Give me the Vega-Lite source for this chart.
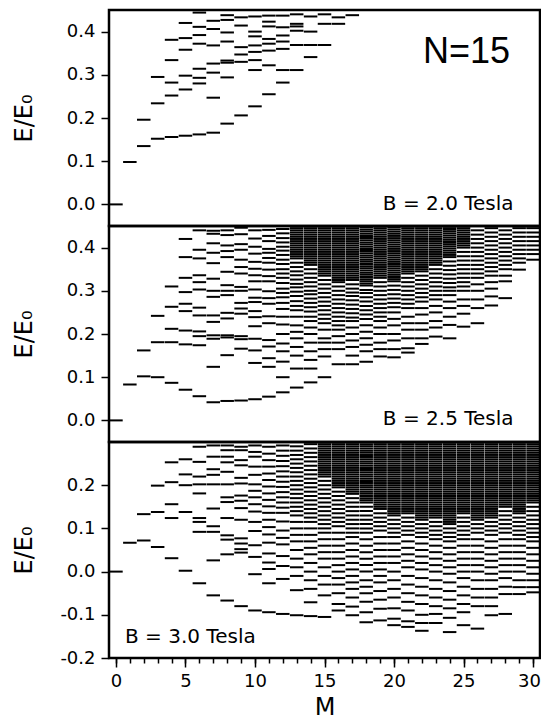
{"$schema":"https://vega.github.io/schema/vega-lite/v6.json","padding":{"left":10,"top":8,"right":3,"bottom":2},"spacing":0,"bounds":"flush",
"config":{"view":{"stroke":"black","strokeWidth":2.5},"axis":{"labelFont":"DejaVu Sans","labelFontSize":18,"labelColor":"black","titleFont":"DejaVu Sans","titleFontSize":24,"titleFontWeight":"normal","titleColor":"black","tickColor":"black","tickWidth":1.5,"domain":false,"grid":false}},
"datasets":{
"a":[{"m":0,"e":0},{"m":1,"e":0.098},{"m":2,"e":0.135},{"m":2,"e":0.196},{"m":3,"e":0.152},{"m":3,"e":0.234},{"m":3,"e":0.295},{"m":4,"e":0.156},{"m":4,"e":0.252},{"m":4,"e":0.282},{"m":4,"e":0.334},{"m":4,"e":0.381},{"m":5,"e":0.159},{"m":5,"e":0.266},{"m":5,"e":0.298},{"m":5,"e":0.358},{"m":5,"e":0.385},{"m":5,"e":0.42},{"m":6,"e":0.162},{"m":6,"e":0.28},{"m":6,"e":0.293},{"m":6,"e":0.314},{"m":6,"e":0.372},{"m":6,"e":0.392},{"m":6,"e":0.411},{"m":6,"e":0.444},{"m":7,"e":0.166},{"m":7,"e":0.247},{"m":7,"e":0.305},{"m":7,"e":0.326},{"m":7,"e":0.368},{"m":7,"e":0.406},{"m":7,"e":0.425},{"m":8,"e":0.187},{"m":8,"e":0.294},{"m":8,"e":0.328},{"m":8,"e":0.333},{"m":8,"e":0.377},{"m":8,"e":0.398},{"m":8,"e":0.427},{"m":8,"e":0.438},{"m":9,"e":0.206},{"m":9,"e":0.33},{"m":9,"e":0.347},{"m":9,"e":0.364},{"m":9,"e":0.414},{"m":9,"e":0.433},{"m":10,"e":0.227},{"m":10,"e":0.311},{"m":10,"e":0.334},{"m":10,"e":0.353},{"m":10,"e":0.368},{"m":10,"e":0.389},{"m":10,"e":0.4},{"m":10,"e":0.435},{"m":11,"e":0.255},{"m":11,"e":0.322},{"m":11,"e":0.356},{"m":11,"e":0.372},{"m":11,"e":0.383},{"m":11,"e":0.412},{"m":11,"e":0.423},{"m":11,"e":0.437},{"m":12,"e":0.282},{"m":12,"e":0.311},{"m":12,"e":0.36},{"m":12,"e":0.377},{"m":12,"e":0.391},{"m":12,"e":0.41},{"m":12,"e":0.437},{"m":13,"e":0.311},{"m":13,"e":0.369},{"m":13,"e":0.402},{"m":13,"e":0.412},{"m":13,"e":0.418},{"m":13,"e":0.44},{"m":14,"e":0.341},{"m":14,"e":0.369},{"m":14,"e":0.4},{"m":14,"e":0.435},{"m":15,"e":0.369},{"m":15,"e":0.418},{"m":15,"e":0.44},{"m":16,"e":0.418},{"m":16,"e":0.433},{"m":17,"e":0.438}],
"b":[{"m":0,"e":0},{"m":1,"e":0.083},{"m":2,"e":0.102},{"m":2,"e":0.162},{"m":3,"e":0.1},{"m":3,"e":0.181},{"m":3,"e":0.242},{"m":4,"e":0.087},{"m":4,"e":0.181},{"m":4,"e":0.212},{"m":4,"e":0.263},{"m":4,"e":0.31},
{"m":5,"e":0.071},{"m":5,"e":0.176},{"m":5,"e":0.208},{"m":5,"e":0.253},{"m":5,"e":0.27},{"m":5,"e":0.297},{"m":5,"e":0.33},{"m":5,"e":0.378},{"m":5,"e":0.42},
{"m":6,"e":0.056},{"m":6,"e":0.174},{"m":6,"e":0.195},{"m":6,"e":0.206},{"m":6,"e":0.243},{"m":6,"e":0.261},{"m":6,"e":0.303},{"m":6,"e":0.32},{"m":6,"e":0.336},{"m":6,"e":0.375},{"m":6,"e":0.395},{"m":6,"e":0.44},
{"m":7,"e":0.042},{"m":7,"e":0.124},{"m":7,"e":0.189},{"m":7,"e":0.197},{"m":7,"e":0.228},{"m":7,"e":0.243},{"m":7,"e":0.286},{"m":7,"e":0.3},{"m":7,"e":0.328},{"m":7,"e":0.364},{"m":7,"e":0.388},{"m":7,"e":0.41},{"m":7,"e":0.432},{"m":7,"e":0.439},
{"m":8,"e":0.045},{"m":8,"e":0.151},{"m":8,"e":0.192},{"m":8,"e":0.197},{"m":8,"e":0.236},{"m":8,"e":0.249},{"m":8,"e":0.29},{"m":8,"e":0.3},{"m":8,"e":0.313},{"m":8,"e":0.344},{"m":8,"e":0.378},{"m":8,"e":0.392},{"m":8,"e":0.405},{"m":8,"e":0.429},{"m":8,"e":0.44},
{"m":9,"e":0.046},{"m":9,"e":0.166},{"m":9,"e":0.188},{"m":9,"e":0.195},{"m":9,"e":0.247},{"m":9,"e":0.259},{"m":9,"e":0.272},{"m":9,"e":0.3},{"m":9,"e":0.309},{"m":9,"e":0.34},{"m":9,"e":0.355},{"m":9,"e":0.372},{"m":9,"e":0.395},{"m":9,"e":0.408},{"m":9,"e":0.431},{"m":9,"e":0.446},
{"m":10,"e":0.049},{"m":10,"e":0.133},{"m":10,"e":0.162},{"m":10,"e":0.189},{"m":10,"e":0.218},{"m":10,"e":0.239},{"m":10,"e":0.253},{"m":10,"e":0.274},{"m":10,"e":0.284},{"m":10,"e":0.303},{"m":10,"e":0.322},{"m":10,"e":0.336},{"m":10,"e":0.351},{"m":10,"e":0.367},{"m":10,"e":0.386},{"m":10,"e":0.402},{"m":10,"e":0.421},{"m":10,"e":0.44},
{"m":11,"e":0.055},{"m":11,"e":0.124},{"m":11,"e":0.144},{"m":11,"e":0.171},{"m":11,"e":0.186},{"m":11,"e":0.225},{"m":11,"e":0.241},{"m":11,"e":0.27},{"m":11,"e":0.283},{"m":11,"e":0.299},{"m":11,"e":0.322},{"m":11,"e":0.334},{"m":11,"e":0.349},{"m":11,"e":0.365},{"m":11,"e":0.376},{"m":11,"e":0.388},{"m":11,"e":0.397},{"m":11,"e":0.415},{"m":11,"e":0.427},{"m":11,"e":0.441},
{"m":12,"e":0.065},{"m":12,"e":0.1},{"m":12,"e":0.136},{"m":12,"e":0.16},{"m":12,"e":0.178},{"m":12,"e":0.2},{"m":12,"e":0.222},{"m":12,"e":0.24},{"m":12,"e":0.258},{"m":12,"e":0.272},{"m":12,"e":0.285},{"m":12,"e":0.295},{"m":12,"e":0.305},{"m":12,"e":0.318},{"m":12,"e":0.33},{"m":12,"e":0.34},{"m":12,"e":0.35},{"m":12,"e":0.362},{"m":12,"e":0.372},{"m":12,"e":0.383},{"m":12,"e":0.393},{"m":12,"e":0.402},{"m":12,"e":0.412},{"m":12,"e":0.422},{"m":12,"e":0.433},{"m":12,"e":0.443},
{"m":13,"e":0.076},{"m":13,"e":0.12},{"m":13,"e":0.15},{"m":13,"e":0.17},{"m":13,"e":0.19},{"m":13,"e":0.205},{"m":13,"e":0.22},{"m":13,"e":0.24},{"m":13,"e":0.255},{"m":13,"e":0.265},{"m":13,"e":0.276},{"m":13,"e":0.288},{"m":13,"e":0.298},{"m":13,"e":0.308},{"m":13,"e":0.316},{"m":13,"e":0.326},{"m":13,"e":0.336},{"m":13,"e":0.345},{"m":13,"e":0.355},{"m":13,"e":0.365},{"m":13,"e":0.375},{"m":13,"e":0.385},{"m":13,"e":0.395},{"m":13,"e":0.405},{"m":13,"e":0.415},{"m":13,"e":0.425},{"m":13,"e":0.435},{"m":13,"e":0.445},
{"m":14,"e":0.088},{"m":14,"e":0.12},{"m":14,"e":0.14},{"m":14,"e":0.16},{"m":14,"e":0.18},{"m":14,"e":0.2},{"m":14,"e":0.215},{"m":14,"e":0.23},{"m":14,"e":0.24},{"m":14,"e":0.252},{"m":14,"e":0.262},{"m":14,"e":0.272},{"m":14,"e":0.282},{"m":14,"e":0.292},{"m":14,"e":0.3},{"m":14,"e":0.31},{"m":14,"e":0.32},{"m":14,"e":0.33},{"m":14,"e":0.34},{"m":14,"e":0.35},{"m":14,"e":0.36},{"m":14,"e":0.37},{"m":14,"e":0.38},{"m":14,"e":0.39},{"m":14,"e":0.4},{"m":14,"e":0.41},{"m":14,"e":0.42},{"m":14,"e":0.43},{"m":14,"e":0.44},
{"m":15,"e":0.1},{"m":15,"e":0.148},{"m":15,"e":0.165},{"m":15,"e":0.18},{"m":15,"e":0.19},{"m":15,"e":0.21},{"m":15,"e":0.225},{"m":15,"e":0.235},{"m":15,"e":0.245},{"m":15,"e":0.255},{"m":15,"e":0.265},{"m":15,"e":0.275},{"m":15,"e":0.285},{"m":15,"e":0.295},{"m":15,"e":0.305},{"m":15,"e":0.315},{"m":15,"e":0.325},{"m":15,"e":0.335},{"m":15,"e":0.345},{"m":15,"e":0.355},{"m":15,"e":0.365},{"m":15,"e":0.375},{"m":15,"e":0.385},{"m":15,"e":0.395},{"m":15,"e":0.405},{"m":15,"e":0.415},{"m":15,"e":0.425},{"m":15,"e":0.435},{"m":15,"e":0.445},
{"m":16,"e":0.13},{"m":16,"e":0.165},{"m":16,"e":0.18},{"m":16,"e":0.195},{"m":16,"e":0.21},{"m":16,"e":0.22},{"m":16,"e":0.23},{"m":16,"e":0.24},{"m":16,"e":0.25},{"m":16,"e":0.26},{"m":16,"e":0.27},{"m":16,"e":0.28},{"m":16,"e":0.29},{"m":16,"e":0.3},{"m":16,"e":0.31},{"m":16,"e":0.32},{"m":16,"e":0.33},{"m":16,"e":0.34},{"m":16,"e":0.35},{"m":16,"e":0.36},{"m":16,"e":0.37},{"m":16,"e":0.38},{"m":16,"e":0.39},{"m":16,"e":0.4},{"m":16,"e":0.41},{"m":16,"e":0.42},{"m":16,"e":0.43},{"m":16,"e":0.44},
{"m":17,"e":0.13},{"m":17,"e":0.15},{"m":17,"e":0.17},{"m":17,"e":0.185},{"m":17,"e":0.2},{"m":17,"e":0.215},{"m":17,"e":0.23},{"m":17,"e":0.238},{"m":17,"e":0.248},{"m":17,"e":0.258},{"m":17,"e":0.268},{"m":17,"e":0.278},{"m":17,"e":0.288},{"m":17,"e":0.296},{"m":17,"e":0.305},{"m":17,"e":0.315},{"m":17,"e":0.325},{"m":17,"e":0.335},{"m":17,"e":0.345},{"m":17,"e":0.355},{"m":17,"e":0.365},{"m":17,"e":0.375},{"m":17,"e":0.385},{"m":17,"e":0.395},{"m":17,"e":0.405},{"m":17,"e":0.415},{"m":17,"e":0.425},{"m":17,"e":0.435},{"m":17,"e":0.445},
{"m":18,"e":0.136},{"m":18,"e":0.16},{"m":18,"e":0.175},{"m":18,"e":0.19},{"m":18,"e":0.205},{"m":18,"e":0.22},{"m":18,"e":0.235},{"m":18,"e":0.245},{"m":18,"e":0.255},{"m":18,"e":0.265},{"m":18,"e":0.275},{"m":18,"e":0.285},{"m":18,"e":0.295},{"m":18,"e":0.302},{"m":18,"e":0.312},{"m":18,"e":0.322},{"m":18,"e":0.332},{"m":18,"e":0.342},{"m":18,"e":0.352},{"m":18,"e":0.362},{"m":18,"e":0.372},{"m":18,"e":0.382},{"m":18,"e":0.392},{"m":18,"e":0.402},{"m":18,"e":0.412},{"m":18,"e":0.422},{"m":18,"e":0.432},{"m":18,"e":0.442},
{"m":19,"e":0.148},{"m":19,"e":0.165},{"m":19,"e":0.18},{"m":19,"e":0.2},{"m":19,"e":0.215},{"m":19,"e":0.23},{"m":19,"e":0.24},{"m":19,"e":0.25},{"m":19,"e":0.26},{"m":19,"e":0.27},{"m":19,"e":0.28},{"m":19,"e":0.29},{"m":19,"e":0.3},{"m":19,"e":0.31},{"m":19,"e":0.32},{"m":19,"e":0.33},{"m":19,"e":0.34},{"m":19,"e":0.35},{"m":19,"e":0.36},{"m":19,"e":0.37},{"m":19,"e":0.38},{"m":19,"e":0.39},{"m":19,"e":0.4},{"m":19,"e":0.41},{"m":19,"e":0.42},{"m":19,"e":0.43},{"m":19,"e":0.44},
{"m":20,"e":0.146},{"m":20,"e":0.165},{"m":20,"e":0.185},{"m":20,"e":0.2},{"m":20,"e":0.22},{"m":20,"e":0.235},{"m":20,"e":0.25},{"m":20,"e":0.262},{"m":20,"e":0.272},{"m":20,"e":0.282},{"m":20,"e":0.292},{"m":20,"e":0.302},{"m":20,"e":0.312},{"m":20,"e":0.322},{"m":20,"e":0.332},{"m":20,"e":0.342},{"m":20,"e":0.352},{"m":20,"e":0.362},{"m":20,"e":0.372},{"m":20,"e":0.382},{"m":20,"e":0.392},{"m":20,"e":0.402},{"m":20,"e":0.412},{"m":20,"e":0.422},{"m":20,"e":0.432},{"m":20,"e":0.442},
{"m":21,"e":0.157},{"m":21,"e":0.167},{"m":21,"e":0.19},{"m":21,"e":0.21},{"m":21,"e":0.225},{"m":21,"e":0.24},{"m":21,"e":0.26},{"m":21,"e":0.27},{"m":21,"e":0.28},{"m":21,"e":0.29},{"m":21,"e":0.3},{"m":21,"e":0.31},{"m":21,"e":0.32},{"m":21,"e":0.33},{"m":21,"e":0.34},{"m":21,"e":0.35},{"m":21,"e":0.36},{"m":21,"e":0.37},{"m":21,"e":0.38},{"m":21,"e":0.39},{"m":21,"e":0.4},{"m":21,"e":0.41},{"m":21,"e":0.42},{"m":21,"e":0.43},{"m":21,"e":0.44},
{"m":22,"e":0.177},{"m":22,"e":0.19},{"m":22,"e":0.21},{"m":22,"e":0.225},{"m":22,"e":0.245},{"m":22,"e":0.26},{"m":22,"e":0.275},{"m":22,"e":0.285},{"m":22,"e":0.295},{"m":22,"e":0.305},{"m":22,"e":0.315},{"m":22,"e":0.325},{"m":22,"e":0.335},{"m":22,"e":0.345},{"m":22,"e":0.355},{"m":22,"e":0.365},{"m":22,"e":0.375},{"m":22,"e":0.385},{"m":22,"e":0.395},{"m":22,"e":0.405},{"m":22,"e":0.415},{"m":22,"e":0.425},{"m":22,"e":0.435},{"m":22,"e":0.445},
{"m":23,"e":0.194},{"m":23,"e":0.215},{"m":23,"e":0.23},{"m":23,"e":0.25},{"m":23,"e":0.265},{"m":23,"e":0.28},{"m":23,"e":0.29},{"m":23,"e":0.3},{"m":23,"e":0.31},{"m":23,"e":0.32},{"m":23,"e":0.33},{"m":23,"e":0.34},{"m":23,"e":0.35},{"m":23,"e":0.36},{"m":23,"e":0.37},{"m":23,"e":0.38},{"m":23,"e":0.39},{"m":23,"e":0.4},{"m":23,"e":0.41},{"m":23,"e":0.42},{"m":23,"e":0.43},{"m":23,"e":0.44},
{"m":24,"e":0.19},{"m":24,"e":0.221},{"m":24,"e":0.24},{"m":24,"e":0.26},{"m":24,"e":0.275},{"m":24,"e":0.29},{"m":24,"e":0.3},{"m":24,"e":0.308},{"m":24,"e":0.318},{"m":24,"e":0.328},{"m":24,"e":0.338},{"m":24,"e":0.348},{"m":24,"e":0.358},{"m":24,"e":0.368},{"m":24,"e":0.378},{"m":24,"e":0.388},{"m":24,"e":0.398},{"m":24,"e":0.408},{"m":24,"e":0.418},{"m":24,"e":0.428},{"m":24,"e":0.438},{"m":24,"e":0.448},
{"m":25,"e":0.217},{"m":25,"e":0.247},{"m":25,"e":0.265},{"m":25,"e":0.28},{"m":25,"e":0.3},{"m":25,"e":0.31},{"m":25,"e":0.32},{"m":25,"e":0.33},{"m":25,"e":0.34},{"m":25,"e":0.35},{"m":25,"e":0.36},{"m":25,"e":0.37},{"m":25,"e":0.38},{"m":25,"e":0.39},{"m":25,"e":0.4},{"m":25,"e":0.41},{"m":25,"e":0.42},{"m":25,"e":0.43},{"m":25,"e":0.44},
{"m":26,"e":0.225},{"m":26,"e":0.26},{"m":26,"e":0.28},{"m":26,"e":0.3},{"m":26,"e":0.315},{"m":26,"e":0.33},{"m":26,"e":0.34},{"m":26,"e":0.35},{"m":26,"e":0.36},{"m":26,"e":0.37},{"m":26,"e":0.38},{"m":26,"e":0.39},{"m":26,"e":0.4},{"m":26,"e":0.41},{"m":26,"e":0.42},{"m":26,"e":0.43},{"m":26,"e":0.44},
{"m":27,"e":0.266},{"m":27,"e":0.287},{"m":27,"e":0.305},{"m":27,"e":0.32},{"m":27,"e":0.335},{"m":27,"e":0.345},{"m":27,"e":0.355},{"m":27,"e":0.365},{"m":27,"e":0.375},{"m":27,"e":0.385},{"m":27,"e":0.395},{"m":27,"e":0.405},{"m":27,"e":0.415},{"m":27,"e":0.425},{"m":27,"e":0.435},{"m":27,"e":0.445},
{"m":28,"e":0.283},{"m":28,"e":0.322},{"m":28,"e":0.335},{"m":28,"e":0.35},{"m":28,"e":0.36},{"m":28,"e":0.37},{"m":28,"e":0.38},{"m":28,"e":0.39},{"m":28,"e":0.4},{"m":28,"e":0.41},{"m":28,"e":0.42},{"m":28,"e":0.43},{"m":28,"e":0.44},
{"m":29,"e":0.349},{"m":29,"e":0.365},{"m":29,"e":0.375},{"m":29,"e":0.385},{"m":29,"e":0.395},{"m":29,"e":0.405},{"m":29,"e":0.415},{"m":29,"e":0.425},{"m":29,"e":0.435},{"m":29,"e":0.445},
{"m":30,"e":0.372},{"m":30,"e":0.385},{"m":30,"e":0.395},{"m":30,"e":0.405},{"m":30,"e":0.415},{"m":30,"e":0.425},{"m":30,"e":0.435},{"m":30,"e":0.445},
{"m":13,"e":0.38},{"m":13,"e":0.39},{"m":13,"e":0.4},{"m":13,"e":0.41},{"m":13,"e":0.42},{"m":13,"e":0.43},{"m":13,"e":0.44},
{"m":14,"e":0.365},{"m":14,"e":0.375},{"m":14,"e":0.385},{"m":14,"e":0.395},{"m":14,"e":0.405},{"m":14,"e":0.415},{"m":14,"e":0.425},{"m":14,"e":0.435},{"m":14,"e":0.445},
{"m":15,"e":0.34},{"m":15,"e":0.35},{"m":15,"e":0.36},{"m":15,"e":0.37},{"m":15,"e":0.38},{"m":15,"e":0.39},{"m":15,"e":0.4},{"m":15,"e":0.41},{"m":15,"e":0.42},{"m":15,"e":0.43},{"m":15,"e":0.44},
{"m":16,"e":0.325},{"m":16,"e":0.335},{"m":16,"e":0.345},{"m":16,"e":0.355},{"m":16,"e":0.365},{"m":16,"e":0.375},{"m":16,"e":0.385},{"m":16,"e":0.395},{"m":16,"e":0.405},{"m":16,"e":0.415},{"m":16,"e":0.425},{"m":16,"e":0.435},{"m":16,"e":0.445},
{"m":17,"e":0.33},{"m":17,"e":0.34},{"m":17,"e":0.35},{"m":17,"e":0.36},{"m":17,"e":0.37},{"m":17,"e":0.38},{"m":17,"e":0.39},{"m":17,"e":0.4},{"m":17,"e":0.41},{"m":17,"e":0.42},{"m":17,"e":0.43},{"m":17,"e":0.44},
{"m":18,"e":0.317},{"m":18,"e":0.327},{"m":18,"e":0.337},{"m":18,"e":0.347},{"m":18,"e":0.357},{"m":18,"e":0.367},{"m":18,"e":0.377},{"m":18,"e":0.387},{"m":18,"e":0.397},{"m":18,"e":0.407},{"m":18,"e":0.417},{"m":18,"e":0.427},{"m":18,"e":0.437},{"m":18,"e":0.447},
{"m":19,"e":0.335},{"m":19,"e":0.345},{"m":19,"e":0.355},{"m":19,"e":0.365},{"m":19,"e":0.375},{"m":19,"e":0.385},{"m":19,"e":0.395},{"m":19,"e":0.405},{"m":19,"e":0.415},{"m":19,"e":0.425},{"m":19,"e":0.435},{"m":19,"e":0.445},
{"m":20,"e":0.327},{"m":20,"e":0.337},{"m":20,"e":0.347},{"m":20,"e":0.357},{"m":20,"e":0.367},{"m":20,"e":0.377},{"m":20,"e":0.387},{"m":20,"e":0.397},{"m":20,"e":0.407},{"m":20,"e":0.417},{"m":20,"e":0.427},{"m":20,"e":0.437},{"m":20,"e":0.447},
{"m":21,"e":0.345},{"m":21,"e":0.355},{"m":21,"e":0.365},{"m":21,"e":0.375},{"m":21,"e":0.385},{"m":21,"e":0.395},{"m":21,"e":0.405},{"m":21,"e":0.415},{"m":21,"e":0.425},{"m":21,"e":0.435},{"m":21,"e":0.445},
{"m":22,"e":0.35},{"m":22,"e":0.36},{"m":22,"e":0.37},{"m":22,"e":0.38},{"m":22,"e":0.39},{"m":22,"e":0.4},{"m":22,"e":0.41},{"m":22,"e":0.42},{"m":22,"e":0.43},{"m":22,"e":0.44},
{"m":23,"e":0.365},{"m":23,"e":0.375},{"m":23,"e":0.385},{"m":23,"e":0.395},{"m":23,"e":0.405},{"m":23,"e":0.415},{"m":23,"e":0.425},{"m":23,"e":0.435},{"m":23,"e":0.445},
{"m":24,"e":0.383},{"m":24,"e":0.393},{"m":24,"e":0.403},{"m":24,"e":0.413},{"m":24,"e":0.423},{"m":24,"e":0.433},{"m":24,"e":0.443},
{"m":25,"e":0.405},{"m":25,"e":0.415},{"m":25,"e":0.425},{"m":25,"e":0.435},{"m":25,"e":0.445}],
"c":[{"m":0,"e":0},{"m":1,"e":0.067},{"m":2,"e":0.072},{"m":2,"e":0.133},{"m":3,"e":0.057},{"m":3,"e":0.138},{"m":3,"e":0.199},{"m":4,"e":0.031},{"m":4,"e":0.124},{"m":4,"e":0.156},{"m":4,"e":0.207},{"m":4,"e":0.253},{"m":5,"e":0.002},{"m":5,"e":0.138},{"m":5,"e":0.2},{"m":5,"e":0.225},{"m":5,"e":0.26},
{"m":6,"e":-0.027},{"m":6,"e":0.092},{"m":6,"e":0.115},{"m":6,"e":0.124},{"m":6,"e":0.181},{"m":6,"e":0.202},{"m":6,"e":0.22},{"m":6,"e":0.254},{"m":6,"e":0.289},
{"m":7,"e":-0.055},{"m":7,"e":0.026},{"m":7,"e":0.092},{"m":7,"e":0.105},{"m":7,"e":0.146},{"m":7,"e":0.202},{"m":7,"e":0.224},{"m":7,"e":0.237},{"m":7,"e":0.266},{"m":7,"e":0.292},
{"m":8,"e":-0.067},{"m":8,"e":0.04},{"m":8,"e":0.074},{"m":8,"e":0.084},{"m":8,"e":0.124},{"m":8,"e":0.161},{"m":8,"e":0.172},{"m":8,"e":0.202},{"m":8,"e":0.231},{"m":8,"e":0.253},{"m":8,"e":0.266},{"m":8,"e":0.281},{"m":8,"e":0.292},
{"m":9,"e":-0.08},{"m":9,"e":0.044},{"m":9,"e":0.052},{"m":9,"e":0.065},{"m":9,"e":0.077},{"m":9,"e":0.12},{"m":9,"e":0.147},{"m":9,"e":0.164},{"m":9,"e":0.176},{"m":9,"e":0.204},{"m":9,"e":0.217},{"m":9,"e":0.246},{"m":9,"e":0.258},{"m":9,"e":0.281},{"m":9,"e":0.289},
{"m":10,"e":-0.09},{"m":10,"e":-0.006},{"m":10,"e":0.034},{"m":10,"e":0.061},{"m":10,"e":0.094},{"m":10,"e":0.115},{"m":10,"e":0.139},{"m":10,"e":0.156},{"m":10,"e":0.172},{"m":10,"e":0.187},{"m":10,"e":0.202},{"m":10,"e":0.224},{"m":10,"e":0.243},{"m":10,"e":0.266},{"m":10,"e":0.277},{"m":10,"e":0.292},
{"m":11,"e":-0.094},{"m":11,"e":-0.027},{"m":11,"e":0.006},{"m":11,"e":0.021},{"m":11,"e":0.042},{"m":11,"e":0.067},{"m":11,"e":0.086},{"m":11,"e":0.103},{"m":11,"e":0.12},{"m":11,"e":0.136},{"m":11,"e":0.151},{"m":11,"e":0.166},{"m":11,"e":0.181},{"m":11,"e":0.197},{"m":11,"e":0.212},{"m":11,"e":0.227},{"m":11,"e":0.243},{"m":11,"e":0.258},{"m":11,"e":0.273},{"m":11,"e":0.289},
{"m":12,"e":-0.098},{"m":12,"e":-0.017},{"m":12,"e":0.013},{"m":12,"e":0.036},{"m":12,"e":0.063},{"m":12,"e":0.078},{"m":12,"e":0.095},{"m":12,"e":0.116},{"m":12,"e":0.136},{"m":12,"e":0.148},{"m":12,"e":0.16},{"m":12,"e":0.172},{"m":12,"e":0.184},{"m":12,"e":0.196},{"m":12,"e":0.208},{"m":12,"e":0.22},{"m":12,"e":0.232},{"m":12,"e":0.244},{"m":12,"e":0.256},{"m":12,"e":0.268},{"m":12,"e":0.28},{"m":12,"e":0.292},
{"m":13,"e":-0.101},{"m":13,"e":-0.043},{"m":13,"e":-0.01},{"m":13,"e":0.01},{"m":13,"e":0.03},{"m":13,"e":0.05},{"m":13,"e":0.07},{"m":13,"e":0.085},{"m":13,"e":0.1},{"m":13,"e":0.115},{"m":13,"e":0.13},{"m":13,"e":0.14},{"m":13,"e":0.15},{"m":13,"e":0.16},{"m":13,"e":0.17},{"m":13,"e":0.18},{"m":13,"e":0.19},{"m":13,"e":0.2},{"m":13,"e":0.21},{"m":13,"e":0.22},{"m":13,"e":0.23},{"m":13,"e":0.24},{"m":13,"e":0.25},{"m":13,"e":0.26},{"m":13,"e":0.27},{"m":13,"e":0.28},{"m":13,"e":0.29},
{"m":14,"e":-0.103},{"m":14,"e":-0.071},{"m":14,"e":-0.04},{"m":14,"e":-0.02},{"m":14,"e":0},{"m":14,"e":0.02},{"m":14,"e":0.04},{"m":14,"e":0.055},{"m":14,"e":0.07},{"m":14,"e":0.085},{"m":14,"e":0.1},{"m":14,"e":0.115},{"m":14,"e":0.125},{"m":14,"e":0.135},{"m":14,"e":0.145},{"m":14,"e":0.155},{"m":14,"e":0.165},{"m":14,"e":0.175},{"m":14,"e":0.185},{"m":14,"e":0.195},{"m":14,"e":0.205},{"m":14,"e":0.215},{"m":14,"e":0.225},{"m":14,"e":0.235},{"m":14,"e":0.245},{"m":14,"e":0.255},{"m":14,"e":0.265},{"m":14,"e":0.275},{"m":14,"e":0.285},{"m":14,"e":0.295},
{"m":15,"e":-0.105},{"m":15,"e":-0.055},{"m":15,"e":-0.03},{"m":15,"e":-0.01},{"m":15,"e":0.01},{"m":15,"e":0.03},{"m":15,"e":0.045},{"m":15,"e":0.06},{"m":15,"e":0.075},{"m":15,"e":0.09},{"m":15,"e":0.1},{"m":15,"e":0.11},{"m":15,"e":0.12},{"m":15,"e":0.13},{"m":15,"e":0.14},{"m":15,"e":0.15},{"m":15,"e":0.16},{"m":15,"e":0.17},{"m":15,"e":0.18},{"m":15,"e":0.19},{"m":15,"e":0.2},{"m":15,"e":0.21},{"m":15,"e":0.22},{"m":15,"e":0.23},{"m":15,"e":0.24},{"m":15,"e":0.25},{"m":15,"e":0.26},{"m":15,"e":0.27},{"m":15,"e":0.28},{"m":15,"e":0.29},
{"m":16,"e":-0.09},{"m":16,"e":-0.075},{"m":16,"e":-0.05},{"m":16,"e":-0.03},{"m":16,"e":-0.015},{"m":16,"e":0},{"m":16,"e":0.015},{"m":16,"e":0.03},{"m":16,"e":0.045},{"m":16,"e":0.06},{"m":16,"e":0.075},{"m":16,"e":0.09},{"m":16,"e":0.105},{"m":16,"e":0.115},{"m":16,"e":0.125},{"m":16,"e":0.135},{"m":16,"e":0.145},{"m":16,"e":0.155},{"m":16,"e":0.165},{"m":16,"e":0.175},{"m":16,"e":0.185},{"m":16,"e":0.195},{"m":16,"e":0.205},{"m":16,"e":0.215},{"m":16,"e":0.225},{"m":16,"e":0.235},{"m":16,"e":0.245},{"m":16,"e":0.255},{"m":16,"e":0.265},{"m":16,"e":0.275},{"m":16,"e":0.285},{"m":16,"e":0.295},
{"m":17,"e":-0.101},{"m":17,"e":-0.081},{"m":17,"e":-0.06},{"m":17,"e":-0.04},{"m":17,"e":-0.025},{"m":17,"e":-0.01},{"m":17,"e":0.005},{"m":17,"e":0.02},{"m":17,"e":0.035},{"m":17,"e":0.05},{"m":17,"e":0.065},{"m":17,"e":0.08},{"m":17,"e":0.09},{"m":17,"e":0.1},{"m":17,"e":0.11},{"m":17,"e":0.12},{"m":17,"e":0.13},{"m":17,"e":0.14},{"m":17,"e":0.15},{"m":17,"e":0.16},{"m":17,"e":0.17},{"m":17,"e":0.18},{"m":17,"e":0.19},{"m":17,"e":0.2},{"m":17,"e":0.21},{"m":17,"e":0.22},{"m":17,"e":0.23},{"m":17,"e":0.24},{"m":17,"e":0.25},{"m":17,"e":0.26},{"m":17,"e":0.27},{"m":17,"e":0.28},{"m":17,"e":0.29},
{"m":18,"e":-0.117},{"m":18,"e":-0.094},{"m":18,"e":-0.07},{"m":18,"e":-0.05},{"m":18,"e":-0.035},{"m":18,"e":-0.02},{"m":18,"e":0},{"m":18,"e":0.015},{"m":18,"e":0.03},{"m":18,"e":0.045},{"m":18,"e":0.06},{"m":18,"e":0.075},{"m":18,"e":0.09},{"m":18,"e":0.1},{"m":18,"e":0.11},{"m":18,"e":0.12},{"m":18,"e":0.13},{"m":18,"e":0.14},{"m":18,"e":0.15},{"m":18,"e":0.16},{"m":18,"e":0.17},{"m":18,"e":0.18},{"m":18,"e":0.19},{"m":18,"e":0.2},{"m":18,"e":0.21},{"m":18,"e":0.22},{"m":18,"e":0.23},{"m":18,"e":0.24},{"m":18,"e":0.25},{"m":18,"e":0.26},{"m":18,"e":0.27},{"m":18,"e":0.28},{"m":18,"e":0.29},
{"m":19,"e":-0.113},{"m":19,"e":-0.086},{"m":19,"e":-0.065},{"m":19,"e":-0.045},{"m":19,"e":-0.025},{"m":19,"e":-0.01},{"m":19,"e":0.005},{"m":19,"e":0.02},{"m":19,"e":0.035},{"m":19,"e":0.05},{"m":19,"e":0.065},{"m":19,"e":0.08},{"m":19,"e":0.095},{"m":19,"e":0.105},{"m":19,"e":0.115},{"m":19,"e":0.125},{"m":19,"e":0.135},{"m":19,"e":0.145},{"m":19,"e":0.155},{"m":19,"e":0.165},{"m":19,"e":0.175},{"m":19,"e":0.185},{"m":19,"e":0.195},{"m":19,"e":0.205},{"m":19,"e":0.215},{"m":19,"e":0.225},{"m":19,"e":0.235},{"m":19,"e":0.245},{"m":19,"e":0.255},{"m":19,"e":0.265},{"m":19,"e":0.275},{"m":19,"e":0.285},{"m":19,"e":0.295},
{"m":20,"e":-0.124},{"m":20,"e":-0.109},{"m":20,"e":-0.085},{"m":20,"e":-0.06},{"m":20,"e":-0.04},{"m":20,"e":-0.02},{"m":20,"e":0},{"m":20,"e":0.02},{"m":20,"e":0.035},{"m":20,"e":0.05},{"m":20,"e":0.065},{"m":20,"e":0.08},{"m":20,"e":0.09},{"m":20,"e":0.1},{"m":20,"e":0.11},{"m":20,"e":0.12},{"m":20,"e":0.13},{"m":20,"e":0.14},{"m":20,"e":0.15},{"m":20,"e":0.16},{"m":20,"e":0.17},{"m":20,"e":0.18},{"m":20,"e":0.19},{"m":20,"e":0.2},{"m":20,"e":0.21},{"m":20,"e":0.22},{"m":20,"e":0.23},{"m":20,"e":0.24},{"m":20,"e":0.25},{"m":20,"e":0.26},{"m":20,"e":0.27},{"m":20,"e":0.28},{"m":20,"e":0.29},
{"m":21,"e":-0.128},{"m":21,"e":-0.115},{"m":21,"e":-0.09},{"m":21,"e":-0.07},{"m":21,"e":-0.05},{"m":21,"e":-0.03},{"m":21,"e":-0.01},{"m":21,"e":0.01},{"m":21,"e":0.025},{"m":21,"e":0.04},{"m":21,"e":0.055},{"m":21,"e":0.07},{"m":21,"e":0.085},{"m":21,"e":0.095},{"m":21,"e":0.105},{"m":21,"e":0.115},{"m":21,"e":0.125},{"m":21,"e":0.135},{"m":21,"e":0.145},{"m":21,"e":0.155},{"m":21,"e":0.165},{"m":21,"e":0.175},{"m":21,"e":0.185},{"m":21,"e":0.195},{"m":21,"e":0.205},{"m":21,"e":0.215},{"m":21,"e":0.225},{"m":21,"e":0.235},{"m":21,"e":0.245},{"m":21,"e":0.255},{"m":21,"e":0.265},{"m":21,"e":0.275},{"m":21,"e":0.285},{"m":21,"e":0.295},
{"m":22,"e":-0.137},{"m":22,"e":-0.119},{"m":22,"e":-0.1},{"m":22,"e":-0.075},{"m":22,"e":-0.055},{"m":22,"e":-0.035},{"m":22,"e":-0.015},{"m":22,"e":0.005},{"m":22,"e":0.02},{"m":22,"e":0.035},{"m":22,"e":0.05},{"m":22,"e":0.065},{"m":22,"e":0.08},{"m":22,"e":0.09},{"m":22,"e":0.1},{"m":22,"e":0.11},{"m":22,"e":0.12},{"m":22,"e":0.13},{"m":22,"e":0.14},{"m":22,"e":0.15},{"m":22,"e":0.16},{"m":22,"e":0.17},{"m":22,"e":0.18},{"m":22,"e":0.19},{"m":22,"e":0.2},{"m":22,"e":0.21},{"m":22,"e":0.22},{"m":22,"e":0.23},{"m":22,"e":0.24},{"m":22,"e":0.25},{"m":22,"e":0.26},{"m":22,"e":0.27},{"m":22,"e":0.28},{"m":22,"e":0.29},
{"m":23,"e":-0.119},{"m":23,"e":-0.098},{"m":23,"e":-0.08},{"m":23,"e":-0.06},{"m":23,"e":-0.04},{"m":23,"e":-0.02},{"m":23,"e":0},{"m":23,"e":0.015},{"m":23,"e":0.03},{"m":23,"e":0.045},{"m":23,"e":0.06},{"m":23,"e":0.075},{"m":23,"e":0.085},{"m":23,"e":0.095},{"m":23,"e":0.105},{"m":23,"e":0.115},{"m":23,"e":0.125},{"m":23,"e":0.135},{"m":23,"e":0.145},{"m":23,"e":0.155},{"m":23,"e":0.165},{"m":23,"e":0.175},{"m":23,"e":0.185},{"m":23,"e":0.195},{"m":23,"e":0.205},{"m":23,"e":0.215},{"m":23,"e":0.225},{"m":23,"e":0.235},{"m":23,"e":0.245},{"m":23,"e":0.255},{"m":23,"e":0.265},{"m":23,"e":0.275},{"m":23,"e":0.285},{"m":23,"e":0.295},
{"m":24,"e":-0.14},{"m":24,"e":-0.107},{"m":24,"e":-0.085},{"m":24,"e":-0.065},{"m":24,"e":-0.045},{"m":24,"e":-0.025},{"m":24,"e":-0.005},{"m":24,"e":0.01},{"m":24,"e":0.025},{"m":24,"e":0.04},{"m":24,"e":0.055},{"m":24,"e":0.07},{"m":24,"e":0.08},{"m":24,"e":0.09},{"m":24,"e":0.1},{"m":24,"e":0.11},{"m":24,"e":0.12},{"m":24,"e":0.13},{"m":24,"e":0.14},{"m":24,"e":0.15},{"m":24,"e":0.16},{"m":24,"e":0.17},{"m":24,"e":0.18},{"m":24,"e":0.19},{"m":24,"e":0.2},{"m":24,"e":0.21},{"m":24,"e":0.22},{"m":24,"e":0.23},{"m":24,"e":0.24},{"m":24,"e":0.25},{"m":24,"e":0.26},{"m":24,"e":0.27},{"m":24,"e":0.28},{"m":24,"e":0.29},
{"m":25,"e":-0.124},{"m":25,"e":-0.094},{"m":25,"e":-0.075},{"m":25,"e":-0.055},{"m":25,"e":-0.035},{"m":25,"e":-0.015},{"m":25,"e":0},{"m":25,"e":0.015},{"m":25,"e":0.03},{"m":25,"e":0.045},{"m":25,"e":0.06},{"m":25,"e":0.075},{"m":25,"e":0.085},{"m":25,"e":0.095},{"m":25,"e":0.105},{"m":25,"e":0.115},{"m":25,"e":0.125},{"m":25,"e":0.135},{"m":25,"e":0.145},{"m":25,"e":0.155},{"m":25,"e":0.165},{"m":25,"e":0.175},{"m":25,"e":0.185},{"m":25,"e":0.195},{"m":25,"e":0.205},{"m":25,"e":0.215},{"m":25,"e":0.225},{"m":25,"e":0.235},{"m":25,"e":0.245},{"m":25,"e":0.255},{"m":25,"e":0.265},{"m":25,"e":0.275},{"m":25,"e":0.285},{"m":25,"e":0.295},
{"m":26,"e":-0.132},{"m":26,"e":-0.08},{"m":26,"e":-0.06},{"m":26,"e":-0.04},{"m":26,"e":-0.02},{"m":26,"e":0},{"m":26,"e":0.015},{"m":26,"e":0.03},{"m":26,"e":0.045},{"m":26,"e":0.06},{"m":26,"e":0.075},{"m":26,"e":0.09},{"m":26,"e":0.1},{"m":26,"e":0.11},{"m":26,"e":0.12},{"m":26,"e":0.13},{"m":26,"e":0.14},{"m":26,"e":0.15},{"m":26,"e":0.16},{"m":26,"e":0.17},{"m":26,"e":0.18},{"m":26,"e":0.19},{"m":26,"e":0.2},{"m":26,"e":0.21},{"m":26,"e":0.22},{"m":26,"e":0.23},{"m":26,"e":0.24},{"m":26,"e":0.25},{"m":26,"e":0.26},{"m":26,"e":0.27},{"m":26,"e":0.28},{"m":26,"e":0.29},
{"m":27,"e":-0.101},{"m":27,"e":-0.08},{"m":27,"e":-0.06},{"m":27,"e":-0.04},{"m":27,"e":-0.02},{"m":27,"e":-0.005},{"m":27,"e":0.01},{"m":27,"e":0.025},{"m":27,"e":0.04},{"m":27,"e":0.055},{"m":27,"e":0.07},{"m":27,"e":0.085},{"m":27,"e":0.095},{"m":27,"e":0.105},{"m":27,"e":0.115},{"m":27,"e":0.125},{"m":27,"e":0.135},{"m":27,"e":0.145},{"m":27,"e":0.155},{"m":27,"e":0.165},{"m":27,"e":0.175},{"m":27,"e":0.185},{"m":27,"e":0.195},{"m":27,"e":0.205},{"m":27,"e":0.215},{"m":27,"e":0.225},{"m":27,"e":0.235},{"m":27,"e":0.245},{"m":27,"e":0.255},{"m":27,"e":0.265},{"m":27,"e":0.275},{"m":27,"e":0.285},{"m":27,"e":0.295},
{"m":28,"e":-0.098},{"m":28,"e":-0.052},{"m":28,"e":-0.035},{"m":28,"e":-0.015},{"m":28,"e":0},{"m":28,"e":0.015},{"m":28,"e":0.03},{"m":28,"e":0.045},{"m":28,"e":0.06},{"m":28,"e":0.075},{"m":28,"e":0.09},{"m":28,"e":0.1},{"m":28,"e":0.11},{"m":28,"e":0.12},{"m":28,"e":0.13},{"m":28,"e":0.14},{"m":28,"e":0.15},{"m":28,"e":0.16},{"m":28,"e":0.17},{"m":28,"e":0.18},{"m":28,"e":0.19},{"m":28,"e":0.2},{"m":28,"e":0.21},{"m":28,"e":0.22},{"m":28,"e":0.23},{"m":28,"e":0.24},{"m":28,"e":0.25},{"m":28,"e":0.26},{"m":28,"e":0.27},{"m":28,"e":0.28},{"m":28,"e":0.29},
{"m":29,"e":-0.052},{"m":29,"e":-0.036},{"m":29,"e":-0.02},{"m":29,"e":0},{"m":29,"e":0.015},{"m":29,"e":0.03},{"m":29,"e":0.045},{"m":29,"e":0.06},{"m":29,"e":0.075},{"m":29,"e":0.085},{"m":29,"e":0.095},{"m":29,"e":0.105},{"m":29,"e":0.115},{"m":29,"e":0.125},{"m":29,"e":0.135},{"m":29,"e":0.145},{"m":29,"e":0.155},{"m":29,"e":0.165},{"m":29,"e":0.175},{"m":29,"e":0.185},{"m":29,"e":0.195},{"m":29,"e":0.205},{"m":29,"e":0.215},{"m":29,"e":0.225},{"m":29,"e":0.235},{"m":29,"e":0.245},{"m":29,"e":0.255},{"m":29,"e":0.265},{"m":29,"e":0.275},{"m":29,"e":0.285},{"m":29,"e":0.295},
{"m":30,"e":-0.048},{"m":30,"e":-0.036},{"m":30,"e":-0.02},{"m":30,"e":-0.005},{"m":30,"e":0.01},{"m":30,"e":0.025},{"m":30,"e":0.04},{"m":30,"e":0.055},{"m":30,"e":0.07},{"m":30,"e":0.08},{"m":30,"e":0.09},{"m":30,"e":0.1},{"m":30,"e":0.11},{"m":30,"e":0.12},{"m":30,"e":0.13},{"m":30,"e":0.14},{"m":30,"e":0.15},{"m":30,"e":0.16},{"m":30,"e":0.17},{"m":30,"e":0.18},{"m":30,"e":0.19},{"m":30,"e":0.2},{"m":30,"e":0.21},{"m":30,"e":0.22},{"m":30,"e":0.23},{"m":30,"e":0.24},{"m":30,"e":0.25},{"m":30,"e":0.26},{"m":30,"e":0.27},{"m":30,"e":0.28},{"m":30,"e":0.29},
{"m":15,"e":0.225},{"m":15,"e":0.235},{"m":15,"e":0.245},{"m":15,"e":0.255},{"m":15,"e":0.265},{"m":15,"e":0.275},{"m":15,"e":0.285},{"m":15,"e":0.295},
{"m":16,"e":0.2},{"m":16,"e":0.21},{"m":16,"e":0.22},{"m":16,"e":0.23},{"m":16,"e":0.24},{"m":16,"e":0.25},{"m":16,"e":0.26},{"m":16,"e":0.27},{"m":16,"e":0.28},{"m":16,"e":0.29},
{"m":17,"e":0.185},{"m":17,"e":0.195},{"m":17,"e":0.205},{"m":17,"e":0.215},{"m":17,"e":0.225},{"m":17,"e":0.235},{"m":17,"e":0.245},{"m":17,"e":0.255},{"m":17,"e":0.265},{"m":17,"e":0.275},{"m":17,"e":0.285},{"m":17,"e":0.295},
{"m":18,"e":0.165},{"m":18,"e":0.175},{"m":18,"e":0.185},{"m":18,"e":0.195},{"m":18,"e":0.205},{"m":18,"e":0.215},{"m":18,"e":0.225},{"m":18,"e":0.235},{"m":18,"e":0.245},{"m":18,"e":0.255},{"m":18,"e":0.265},{"m":18,"e":0.275},{"m":18,"e":0.285},{"m":18,"e":0.295},
{"m":19,"e":0.15},{"m":19,"e":0.16},{"m":19,"e":0.17},{"m":19,"e":0.18},{"m":19,"e":0.19},{"m":19,"e":0.2},{"m":19,"e":0.21},{"m":19,"e":0.22},{"m":19,"e":0.23},{"m":19,"e":0.24},{"m":19,"e":0.25},{"m":19,"e":0.26},{"m":19,"e":0.27},{"m":19,"e":0.28},{"m":19,"e":0.29},
{"m":20,"e":0.135},{"m":20,"e":0.145},{"m":20,"e":0.155},{"m":20,"e":0.165},{"m":20,"e":0.175},{"m":20,"e":0.185},{"m":20,"e":0.195},{"m":20,"e":0.205},{"m":20,"e":0.215},{"m":20,"e":0.225},{"m":20,"e":0.235},{"m":20,"e":0.245},{"m":20,"e":0.255},{"m":20,"e":0.265},{"m":20,"e":0.275},{"m":20,"e":0.285},{"m":20,"e":0.295},
{"m":21,"e":0.14},{"m":21,"e":0.15},{"m":21,"e":0.16},{"m":21,"e":0.17},{"m":21,"e":0.18},{"m":21,"e":0.19},{"m":21,"e":0.2},{"m":21,"e":0.21},{"m":21,"e":0.22},{"m":21,"e":0.23},{"m":21,"e":0.24},{"m":21,"e":0.25},{"m":21,"e":0.26},{"m":21,"e":0.27},{"m":21,"e":0.28},{"m":21,"e":0.29},
{"m":22,"e":0.125},{"m":22,"e":0.135},{"m":22,"e":0.145},{"m":22,"e":0.155},{"m":22,"e":0.165},{"m":22,"e":0.175},{"m":22,"e":0.185},{"m":22,"e":0.195},{"m":22,"e":0.205},{"m":22,"e":0.215},{"m":22,"e":0.225},{"m":22,"e":0.235},{"m":22,"e":0.245},{"m":22,"e":0.255},{"m":22,"e":0.265},{"m":22,"e":0.275},{"m":22,"e":0.285},{"m":22,"e":0.295},
{"m":23,"e":0.13},{"m":23,"e":0.14},{"m":23,"e":0.15},{"m":23,"e":0.16},{"m":23,"e":0.17},{"m":23,"e":0.18},{"m":23,"e":0.19},{"m":23,"e":0.2},{"m":23,"e":0.21},{"m":23,"e":0.22},{"m":23,"e":0.23},{"m":23,"e":0.24},{"m":23,"e":0.25},{"m":23,"e":0.26},{"m":23,"e":0.27},{"m":23,"e":0.28},{"m":23,"e":0.29},
{"m":24,"e":0.115},{"m":24,"e":0.125},{"m":24,"e":0.135},{"m":24,"e":0.145},{"m":24,"e":0.155},{"m":24,"e":0.165},{"m":24,"e":0.175},{"m":24,"e":0.185},{"m":24,"e":0.195},{"m":24,"e":0.205},{"m":24,"e":0.215},{"m":24,"e":0.225},{"m":24,"e":0.235},{"m":24,"e":0.245},{"m":24,"e":0.255},{"m":24,"e":0.265},{"m":24,"e":0.275},{"m":24,"e":0.285},{"m":24,"e":0.295},
{"m":25,"e":0.14},{"m":25,"e":0.15},{"m":25,"e":0.16},{"m":25,"e":0.17},{"m":25,"e":0.18},{"m":25,"e":0.19},{"m":25,"e":0.2},{"m":25,"e":0.21},{"m":25,"e":0.22},{"m":25,"e":0.23},{"m":25,"e":0.24},{"m":25,"e":0.25},{"m":25,"e":0.26},{"m":25,"e":0.27},{"m":25,"e":0.28},{"m":25,"e":0.29},
{"m":26,"e":0.125},{"m":26,"e":0.135},{"m":26,"e":0.145},{"m":26,"e":0.155},{"m":26,"e":0.165},{"m":26,"e":0.175},{"m":26,"e":0.185},{"m":26,"e":0.195},{"m":26,"e":0.205},{"m":26,"e":0.215},{"m":26,"e":0.225},{"m":26,"e":0.235},{"m":26,"e":0.245},{"m":26,"e":0.255},{"m":26,"e":0.265},{"m":26,"e":0.275},{"m":26,"e":0.285},{"m":26,"e":0.295},
{"m":27,"e":0.13},{"m":27,"e":0.14},{"m":27,"e":0.15},{"m":27,"e":0.16},{"m":27,"e":0.17},{"m":27,"e":0.18},{"m":27,"e":0.19},{"m":27,"e":0.2},{"m":27,"e":0.21},{"m":27,"e":0.22},{"m":27,"e":0.23},{"m":27,"e":0.24},{"m":27,"e":0.25},{"m":27,"e":0.26},{"m":27,"e":0.27},{"m":27,"e":0.28},{"m":27,"e":0.29},
{"m":28,"e":0.155},{"m":28,"e":0.165},{"m":28,"e":0.175},{"m":28,"e":0.185},{"m":28,"e":0.195},{"m":28,"e":0.205},{"m":28,"e":0.215},{"m":28,"e":0.225},{"m":28,"e":0.235},{"m":28,"e":0.245},{"m":28,"e":0.255},{"m":28,"e":0.265},{"m":28,"e":0.275},{"m":28,"e":0.285},{"m":28,"e":0.295},
{"m":29,"e":0.14},{"m":29,"e":0.15},{"m":29,"e":0.16},{"m":29,"e":0.17},{"m":29,"e":0.18},{"m":29,"e":0.19},{"m":29,"e":0.2},{"m":29,"e":0.21},{"m":29,"e":0.22},{"m":29,"e":0.23},{"m":29,"e":0.24},{"m":29,"e":0.25},{"m":29,"e":0.26},{"m":29,"e":0.27},{"m":29,"e":0.28},{"m":29,"e":0.29},
{"m":30,"e":0.165},{"m":30,"e":0.175},{"m":30,"e":0.185},{"m":30,"e":0.195},{"m":30,"e":0.205},{"m":30,"e":0.215},{"m":30,"e":0.225},{"m":30,"e":0.235},{"m":30,"e":0.245},{"m":30,"e":0.255},{"m":30,"e":0.265},{"m":30,"e":0.275},{"m":30,"e":0.285},{"m":30,"e":0.295}]
},
"vconcat":[
{"width":431,"height":216,"layer":[
{"data":{"name":"a"},"mark":{"type":"tick","orient":"horizontal","size":13.5,"thickness":2,"color":"black","opacity":1,"clip":true},
"encoding":{"x":{"field":"m","type":"quantitative","scale":{"domain":[-0.5,30.5],"nice":false,"zero":false},"axis":null},
"y":{"field":"e","type":"quantitative","scale":{"domain":[-0.05,0.45],"nice":false,"zero":false},"axis":{"values":[0,0.1,0.2,0.3,0.4],"labelExpr":"replace(format(datum.value,'.1f'),'−','-')","title":"E/E₀","tickSize":8,"labelPadding":6,"titleX":-73}}}},
{"data":{"values":[{"m":28.6,"e":-0.012,"t":"B = 2.0 Tesla"}]},"mark":{"type":"text","align":"right","baseline":"alphabetic","font":"DejaVu Sans","fontSize":20,"color":"black"},
"encoding":{"x":{"field":"m","type":"quantitative"},"y":{"field":"e","type":"quantitative"},"text":{"field":"t"}}},
{"data":{"values":[{"m":28.35,"e":0.327,"t":"N=15"}]},"mark":{"type":"text","align":"right","baseline":"alphabetic","font":"Liberation Sans","fontSize":36,"color":"black"},
"encoding":{"x":{"field":"m","type":"quantitative"},"y":{"field":"e","type":"quantitative"},"text":{"field":"t"}}}]},
{"width":431,"height":216,"layer":[
{"data":{"name":"b"},"mark":{"type":"tick","orient":"horizontal","size":13.5,"thickness":2,"color":"black","opacity":1,"clip":true},
"encoding":{"x":{"field":"m","type":"quantitative","scale":{"domain":[-0.5,30.5],"nice":false,"zero":false},"axis":null},
"y":{"field":"e","type":"quantitative","scale":{"domain":[-0.05,0.45],"nice":false,"zero":false},"axis":{"values":[0,0.1,0.2,0.3,0.4],"labelExpr":"replace(format(datum.value,'.1f'),'−','-')","title":"E/E₀","tickSize":8,"labelPadding":6,"titleX":-73}}}},
{"data":{"values":[{"m":28.6,"e":-0.01,"t":"B = 2.5 Tesla"}]},"mark":{"type":"text","align":"right","baseline":"alphabetic","font":"DejaVu Sans","fontSize":20,"color":"black"},
"encoding":{"x":{"field":"m","type":"quantitative"},"y":{"field":"e","type":"quantitative"},"text":{"field":"t"}}}]},
{"width":431,"height":216,"resolve":{"axis":{"x":"independent"}},"layer":[
{"data":{"name":"c"},"mark":{"type":"tick","orient":"horizontal","size":13.5,"thickness":2,"color":"black","opacity":1,"clip":true},
"encoding":{"x":{"field":"m","type":"quantitative","scale":{"domain":[-0.5,30.5],"nice":false,"zero":false},"axis":{"orient":"bottom","values":[0,5,10,15,20,25,30],"format":"d","labelOverlap":false,"labelFlush":false,"labelOffset":{"condition":{"test":"datum.value === 30","value":-4},"value":0},"tickSize":9,"labelPadding":5,"title":"M","titlePadding":5}},
"y":{"field":"e","type":"quantitative","scale":{"domain":[-0.2,0.3],"nice":false,"zero":false},"axis":{"values":[-0.2,-0.1,0,0.1,0.2],"labelExpr":"replace(format(datum.value,'.1f'),'−','-')","title":"E/E₀","tickSize":8,"labelPadding":6,"titleX":-73}}}},
{"data":{"values":[{"m":0.65,"e":-0.165,"t":"B = 3.0 Tesla"}]},"mark":{"type":"text","align":"left","baseline":"alphabetic","font":"DejaVu Sans","fontSize":20,"color":"black"},
"encoding":{"x":{"field":"m","type":"quantitative","axis":{"orient":"bottom","values":[0,1,2,3,4,5,6,7,8,9,10,11,12,13,14,15,16,17,18,19,20,21,22,23,24,25,26,27,28,29,30],"labels":false,"tickSize":5,"title":null}},"y":{"field":"e","type":"quantitative"},"text":{"field":"t"}}}]}
]}
